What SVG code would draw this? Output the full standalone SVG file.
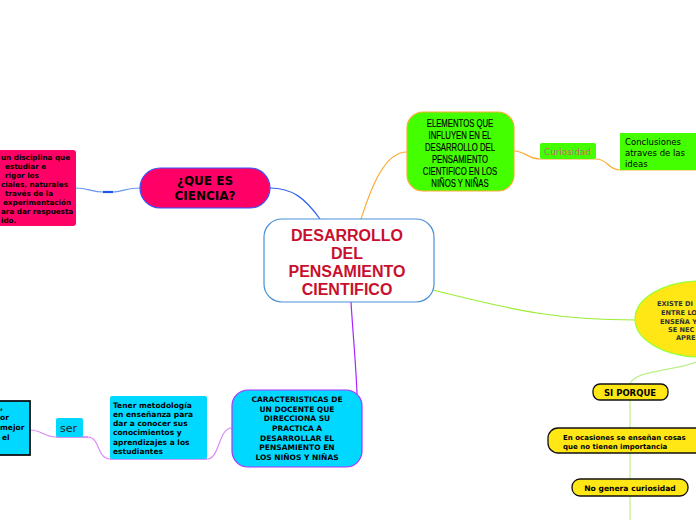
<svg xmlns="http://www.w3.org/2000/svg" width="696" height="520" viewBox="0 0 696 520">
<style>
.b{font-family:"DejaVu Sans",Verdana,sans-serif;font-weight:bold;fill:#000}
.n{font-family:"DejaVu Sans",Verdana,sans-serif;fill:#000}
.c{fill:none;stroke-width:1.2}
</style>
<rect width="696" height="520" fill="#fff"/>
<g id="connectors">
<path class="c" stroke="#3366ee" d="M320,219 C305,198 292,188 270,188"/>
<path class="c" stroke="#6699ee" d="M140,188 C128,188 120,192 113,192 M103,192 C92,192 88,188 76,188"/>
<path fill="none" stroke="#2255ee" stroke-width="2.2" d="M103,192 L113,192"/>
<path class="c" stroke="#ffaa33" d="M361,219 C372,185 385,152 407,152"/>
<path class="c" stroke="#ffaa33" d="M514,151 C525,151 528,159 540,159 L596,159 C608,159 608,170 620,170 L696,170"/>
<path class="c" stroke="#99ee33" d="M433,290 C520,312 560,320 636,320"/>
<path class="c" stroke="#bbf088" d="M696,362 C670,372 635,370 630,384 M630,400 L630,428 M630,453 L630,479 M630,496 L630,520"/>
<path class="c" stroke="#aa22ff" d="M351,302 C353,335 356,365 357,394"/>
<path class="c" stroke="#dd88ff" d="M232,428 C218,428 220,459 207,459 M110,459 C97,459 100,437 88,437 M56,437 C44,437 42,430 30,430"/>
<path fill="none" stroke="#aa33ee" stroke-width="1.2" d="M110,459 L207,459 M56,437 L88,437"/>
</g>
<g id="central">
<rect x="264" y="219" width="170" height="83" rx="18" fill="#fff" stroke="#4a90d9" stroke-width="1.2"/>
<g font-family="'Liberation Sans',Arial,sans-serif" font-weight="bold" font-size="16" fill="#c8102e" text-anchor="middle">
<text x="347" y="241">DESARROLLO</text>
<text x="347" y="259">DEL</text>
<text x="347" y="277">PENSAMIENTO</text>
<text x="347" y="295">CIENTIFICO</text>
</g>
</g>
<g id="ciencia">
<rect x="140" y="168" width="130" height="40" rx="20" fill="#ff0066" stroke="#3355ff" stroke-width="1.2"/>
<text class="b" font-size="12" text-anchor="middle" x="205" y="185">¿QUE ES</text>
<text class="b" font-size="12" text-anchor="middle" x="205" y="200">CIENCIA?</text>
</g>
<g id="ciencia-def">
<rect x="-6" y="150" width="82" height="76" rx="3" fill="#ff0066"/>
<g class="b" font-size="7.2">
<text x="1" y="160">un disciplina que</text>
<text x="5" y="169">estudiar e</text>
<text x="5" y="178">rigor los</text>
<text x="1" y="187">ciales, naturales</text>
<text x="5" y="196">través de la</text>
<text x="3" y="205">experimentación</text>
<text x="1" y="214">ara dar respuesta</text>
<text x="1" y="223">ido.</text>
</g>
</g>
<g id="elementos">
<rect x="407" y="112" width="107" height="79" rx="16" fill="#44ff00" stroke="#ffaa33" stroke-width="1.2"/>
<g font-family="'Liberation Sans',Arial,sans-serif" font-size="10.2" fill="#000" stroke="#000" stroke-width="0.15" text-anchor="middle" transform="translate(460,0) scale(0.76,1)">
<text x="0" y="127">ELEMENTOS QUE</text>
<text x="0" y="139">INFLUYEN EN EL</text>
<text x="0" y="151">DESARROLLO DEL</text>
<text x="0" y="163">PENSAMIENTO</text>
<text x="0" y="175">CIENTIFICO EN LOS</text>
<text x="0" y="187">NIÑOS Y NIÑAS</text>
</g>
</g>
<g id="curiosidad">
<rect x="540" y="143" width="56" height="16" rx="2" fill="#44ff00"/>
<text class="n" font-size="8.8" style="fill:#cc6666" x="544" y="155">Curiosidad</text>
</g>
<g id="conclusiones">
<rect x="620" y="133" width="80" height="37" fill="#44ff00"/>
<text class="n" font-size="8.5" x="625" y="145">Conclusiones</text>
<text class="n" font-size="8.5" x="625" y="156">atraves de las</text>
<text class="n" font-size="8.5" x="625" y="167">ideas</text>
</g>
<g id="existe">
<ellipse cx="701" cy="319" rx="66" ry="38" fill="#ffe615" stroke="#99ff33" stroke-width="1.2"/>
<g class="b" font-size="6.6" style="fill:#333">
<text x="657" y="306">EXISTE DI</text>
<text x="661" y="315">ENTRE LO</text>
<text x="660" y="324">ENSEÑA Y</text>
<text x="668" y="332">SE NEC</text>
<text x="676" y="340">APRE</text>
</g>
</g>
<g id="siporque">
<rect x="593" y="384" width="75" height="16" rx="7" fill="#ffe615" stroke="#111" stroke-width="1.3"/>
<text class="b" font-size="8.5" text-anchor="middle" x="630" y="395.5">SI PORQUE</text>
</g>
<g id="ocasiones">
<rect x="548" y="428" width="160" height="25" rx="10" fill="#ffe615" stroke="#111" stroke-width="1.3"/>
<text class="b" font-size="7" x="563" y="440">En ocasiones se enseñan cosas</text>
<text class="b" font-size="7" x="563" y="449">que no tienen importancia</text>
</g>
<g id="nogenera">
<rect x="572" y="479" width="116" height="17" rx="8" fill="#ffe615" stroke="#111" stroke-width="1.3"/>
<text class="b" font-size="7.6" text-anchor="middle" x="630" y="490.5">No genera curiosidad</text>
</g>
<g id="caracteristicas">
<rect x="232" y="390" width="130" height="77" rx="16" fill="#00d8ff" stroke="#aa33ff" stroke-width="1.2"/>
<g class="b" font-size="7.5" text-anchor="middle">
<text x="297" y="402">CARACTERISTICAS DE</text>
<text x="297" y="412">UN DOCENTE QUE</text>
<text x="297" y="421">DIRECCIONA SU</text>
<text x="297" y="431">PRACTICA A</text>
<text x="297" y="441">DESARROLLAR EL</text>
<text x="297" y="450">PENSAMIENTO EN</text>
<text x="297" y="460">LOS NIÑOS Y NIÑAS</text>
</g>
</g>
<g id="tener">
<rect x="110" y="396" width="97" height="63" rx="2" fill="#00d8ff"/>
<g class="b" font-size="7.5">
<text x="113" y="408">Tener metodología</text>
<text x="113" y="417">en enseñanza para</text>
<text x="113" y="426">dar a conocer sus</text>
<text x="113" y="435">conocimientos y</text>
<text x="113" y="445">aprendizajes a los</text>
<text x="113" y="454">estudiantes</text>
</g>
</g>
<g id="ser">
<rect x="56" y="418" width="27" height="19" rx="2" fill="#00d8ff"/>
<text class="n" font-size="11" style="fill:#222" x="60" y="432">ser</text>
</g>
<g id="left-box">
<rect x="-6" y="401" width="36" height="54" fill="#00d8ff" stroke="#111" stroke-width="1.8"/>
<g class="b" font-size="7.5">
<text x="0" y="410">,</text>
<text x="0" y="420">or</text>
<text x="0" y="430">mejor</text>
<text x="2" y="440">el</text>
</g>
</g>
</svg>
